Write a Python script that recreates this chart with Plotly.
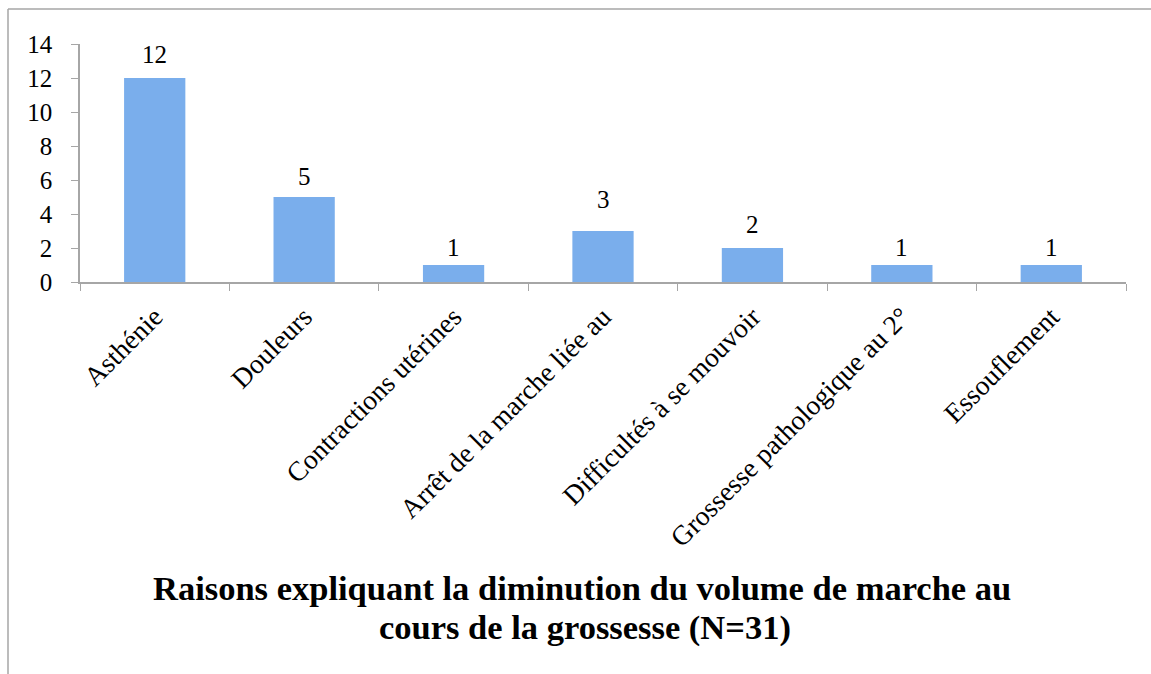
import plotly.graph_objects as go

categories = ["Asthénie", "Douleurs", "Contractions utérines", "Arrêt de la marche liée au",
              "Difficultés à se mouvoir", "Grossesse pathologique au 2°", "Essouflement"]
values = [12, 5, 1, 3, 2, 1, 1]
y_ticks = [0, 2, 4, 6, 8, 10, 12, 14]
title_lines = ["Raisons expliquant la diminution du volume de marche au",
               "cours de la grossesse (N=31)"]

# styling: vertical gap (px) between each bar top and its value label, as in the original
label_gaps = [12, 9, 6, 20, 12, 6, 6]

W, H = 1151, 674
L, R, T, B = 80, 25, 44, 392
pw, ph = W - L - R, H - T - B

FONT = "Liberation Serif"

fig = go.Figure()
fig.add_trace(go.Bar(
    x=categories, y=values,
    marker=dict(color="#7AAEEC", line=dict(width=0)),
    cliponaxis=False,
    width=0.41,
    hoverinfo="x+y",
))

def py(px):
    return 1 - (px - T) / ph

def pxx(px):
    return (px - L) / pw

annotations = []
for c, v, g in zip(categories, values, label_gaps):
    annotations.append(dict(
        x=c, y=v, xref="x", yref="y", text=str(v), showarrow=False,
        xanchor="center", yanchor="bottom", yshift=g - 4,
        font=dict(family=FONT, size=25, color="black"),
    ))
annotations += [
    dict(text="<b>" + title_lines[0] + "</b>", xref="paper", yref="paper",
         x=pxx(582), y=py(588), xanchor="center", yanchor="middle", showarrow=False,
         font=dict(family=FONT, size=34.5, color="black")),
    dict(text="<b>" + title_lines[1] + "</b>", xref="paper", yref="paper",
         x=pxx(585), y=py(627), xanchor="center", yanchor="middle", showarrow=False,
         font=dict(family=FONT, size=34.5, color="black")),
]

fig.update_layout(
    width=W, height=H,
    margin=dict(l=L, r=R, t=T, b=B, pad=0),
    paper_bgcolor="white", plot_bgcolor="white",
    showlegend=False,
    xaxis=dict(
        showline=True, linecolor="#A6A6A6", linewidth=1.5,
        ticks="outside", tickcolor="#A6A6A6", ticklen=7, tickson="boundaries",
        tickangle=-45, tickfont=dict(family=FONT, size=27.5, color="black"),
        ticklabelstandoff=6,
        showgrid=False, zeroline=False,
    ),
    yaxis=dict(
        range=[0, 14], tickvals=y_ticks,
        showline=True, linecolor="#A6A6A6", linewidth=1.5,
        ticks="outside", tickcolor="#A6A6A6", ticklen=7,
        tickfont=dict(family=FONT, size=25, color="black"),
        ticklabelstandoff=14,
        showgrid=False, zeroline=False,
    ),
    annotations=annotations,
    shapes=[
        dict(type="line", xref="paper", yref="paper",
             x0=pxx(8), x1=pxx(W + 10), y0=py(9), y1=py(9),
             line=dict(color="#A6A6A6", width=1.5)),
        dict(type="line", xref="paper", yref="paper",
             x0=pxx(8), x1=pxx(8), y0=py(9), y1=py(H + 10),
             line=dict(color="#A6A6A6", width=1.5)),
    ],
)

fig.write_html("out.html", config={"displayModeBar": False},
               post_script="document.body.style.margin='0';document.body.style.overflow='hidden';")
